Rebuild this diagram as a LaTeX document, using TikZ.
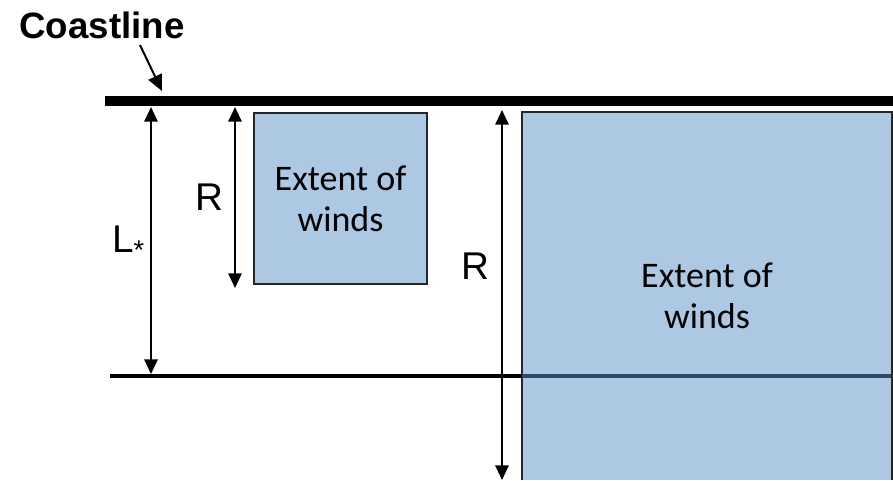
\documentclass[tikz,border=0pt]{standalone}
\usepackage{fontspec}
\setmainfont{Liberation Sans}
\newfontfamily\windfont{Carlito}
\usetikzlibrary{arrows.meta,positioning}
\definecolor{windblue}{RGB}{173,200,227}
\definecolor{seablue}{RGB}{47,75,105}

\begin{document}
\begin{tikzpicture}[x=0.75pt,y=-0.75pt,
    dimarrow/.style={{Triangle[length=11pt,width=10pt]}-{Triangle[length=11pt,width=10pt]},line width=1.5pt},
    windbox/.style={fill=windblue,inner sep=0pt,align=center,
      font=\windfont\fontsize{27pt}{31pt}\selectfont},
    dimlabel/.style={inner sep=0pt,font=\fontsize{29pt}{33pt}\selectfont}]
  \useasboundingbox (0,0) rectangle (893,480);
  % wind boxes
  \node[windbox,draw=black!85,line width=1.2pt,minimum width=129.5pt,minimum height=128pt]
    (smallwind) at (340.5,198.5) {Extent of\\winds};
  \node[windbox,minimum width=277.5pt,minimum height=276pt]
    (bigwind) at (707,296) {Extent of\\winds};
  \draw[black!85,line width=1.5pt] (bigwind.south west) -- (bigwind.north west)
    -- (bigwind.north east) -- (bigwind.south east);
  % coast and offshore line
  \coordinate (coastW) at (105,101);
  \coordinate (coastE) at (893,101);
  \draw[line width=7.5pt] (coastW) -- (coastE);
  \coordinate (shelfW) at (110,376);
  \coordinate (shelfE) at (893,376);
  \draw[line width=3pt] (shelfW) -- (bigwind.west |- shelfW);
  \draw[seablue,line width=3pt] (bigwind.west |- shelfW) -- ([xshift=-1pt]bigwind.east |- shelfE);
  % label for the coast
  \node[font=\bfseries\fontsize{27.5pt}{31pt}\selectfont] (coastlabel) at (102,25) {Coastline};
  \coordinate (coastfrom) at (140,45);
  \coordinate (coastto) at (162,91);
  \draw[-{Triangle[length=12pt,width=11pt]},line width=1.5pt] (coastfrom) -- (coastto);
  % dimensions
  \coordinate (ltop) at (151,107);
  \coordinate (lbot) at (151,374);
  \draw[dimarrow] (ltop) -- (lbot);
  \node[dimlabel,anchor=east] (llabel) at (145,243) {L\textsubscript{*}};
  \coordinate (rtop) at (235,107);
  \coordinate (rbot) at (235,288);
  \draw[dimarrow] (rtop) -- (rbot);
  \node[dimlabel,anchor=east] (rlabel) at (224,197) {R};
  \coordinate (bigtop) at (502,110);
  \coordinate (bigbot) at (502,480);
  \draw[dimarrow] (bigtop) -- (bigbot);
  \node[dimlabel,anchor=east] (biglabel) at (490,266) {R};
\end{tikzpicture}
\end{document}
